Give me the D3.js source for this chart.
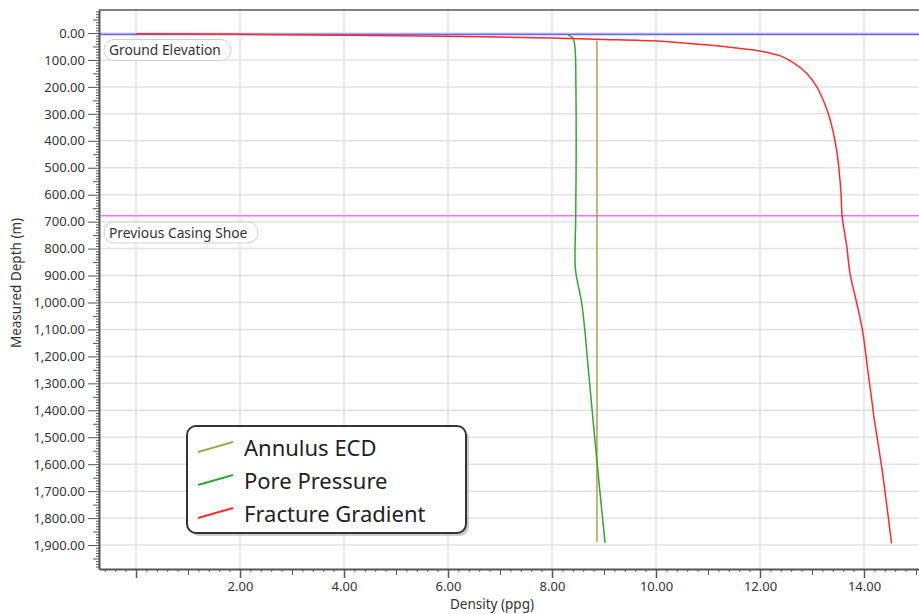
<script src="https://cdn.jsdelivr.net/npm/d3@7/dist/d3.min.js"></script>
<body style="margin:0;background:#fff">
<script>
// depth (m) vs density (ppg)
const ecdDepth = [28, 1890];
const ecdDensity = [8.865, 8.865];

const poreDepth = [7, 19, 50, 200, 450, 700, 875, 1000, 1100, 1250, 1580, 1892];
const poreDensity = [8.31, 8.40, 8.44, 8.46, 8.465, 8.455, 8.45, 8.57, 8.63, 8.70, 8.86, 9.02];

const fracDepth = [3, 5, 8, 12, 19, 24, 30, 36, 45, 55, 67, 84, 110, 150, 199, 280, 323, 370, 430, 508, 600, 681, 793, 891, 1002, 1102, 1262, 1362, 1424, 1610, 1894];
const fracDensity = [0, 2, 4, 6, 8, 9, 10, 10.46, 11, 11.5, 12, 12.38, 12.64, 12.9, 13.09, 13.28, 13.35, 13.41, 13.47, 13.52, 13.56, 13.58, 13.67, 13.73, 13.86, 13.97, 14.08, 14.15, 14.19, 14.34, 14.53];

const seriesNames = ["Annulus ECD", "Pore Pressure", "Fracture Gradient"];
const seriesColors = ["#aaa24e", "#2fa82f", "#ff2a2a"];

const markerNames = ["Ground Elevation", "Previous Casing Shoe"];
const markerDepths = [5, 678];
const markerColors = ["#6868ff", "#ff6cff"];

const xTicks = [0, 2, 4, 6, 8, 10, 12, 14];
const yTicks = d3.range(0, 2000, 100);

const width = 919, height = 614;
const pLeft = 99, pRight = 919, pTop = 10, pBottom = 569;

const x = d3.scaleLinear().domain([-0.7115, 15.058]).range([pLeft, pRight]);
const y = d3.scaleLinear().domain([-85.3, 1988.9]).range([pTop, pBottom]);

const font = "'Noto Sans', 'Open Sans', sans-serif";
const axisCol = "#555";

const svg = d3.select("body").append("svg")
  .attr("width", width).attr("height", height)
  .style("font-family", font);

svg.append("defs").append("clipPath").attr("id", "plot")
  .append("rect").attr("x", pLeft).attr("y", pTop)
  .attr("width", pRight - pLeft).attr("height", pBottom - pTop);

// grid
svg.append("g").selectAll("line").data(xTicks).enter().append("line")
  .attr("x1", d => x(d)).attr("x2", d => x(d))
  .attr("y1", pTop).attr("y2", pBottom)
  .attr("stroke", "#e2e2e2").attr("stroke-width", 1.5);
svg.append("g").selectAll("line").data(yTicks).enter().append("line")
  .attr("x1", pLeft).attr("x2", pRight)
  .attr("y1", d => y(d)).attr("y2", d => y(d))
  .attr("stroke", "#e2e2e2").attr("stroke-width", 1.5);

// marker lines
markerDepths.forEach(function(d, i) {
  svg.append("line")
    .attr("x1", pLeft).attr("x2", pRight)
    .attr("y1", y(d)).attr("y2", y(d))
    .attr("stroke", markerColors[i]).attr("stroke-width", 1.6);
});

// series
const line = d3.line().x(d => x(d[0])).y(d => y(d[1])).curve(d3.curveCatmullRom.alpha(0.5));
const series = [
  d3.zip(ecdDensity, ecdDepth),
  d3.zip(poreDensity, poreDepth),
  d3.zip(fracDensity, fracDepth)
];
const gLines = svg.append("g").attr("clip-path", "url(#plot)");
series.forEach(function(s, i) {
  gLines.append("path")
    .attr("d", line(s))
    .attr("fill", "none")
    .attr("stroke", seriesColors[i])
    .attr("stroke-width", 1.5);
});

// marker labels
const markerLabelY = [39.5, 222];
const markerLabelW = [127, 154];
markerNames.forEach(function(name, i) {
  svg.append("rect")
    .attr("x", 104).attr("y", markerLabelY[i])
    .attr("width", markerLabelW[i]).attr("height", 21)
    .attr("rx", 10).attr("fill", "#fff")
    .attr("stroke", "#d0d0d0");
  svg.append("text")
    .attr("x", 109).attr("y", markerLabelY[i] + 15.5)
    .attr("font-size", "13.8px").attr("fill", "#333")
    .text(name);
});

// top border
svg.append("line").attr("x1", pLeft).attr("x2", pRight)
  .attr("y1", pTop).attr("y2", pTop)
  .attr("stroke", axisCol).attr("stroke-width", 1.5);

// y axis
const yAxis = svg.append("g").attr("transform", "translate(" + pLeft + ",0)")
  .call(d3.axisLeft(y).tickValues(yTicks).tickSize(11).tickSizeOuter(0)
    .tickFormat(d3.format(",.2f")));
yAxis.select(".domain").attr("stroke", axisCol).attr("stroke-width", 2);
yAxis.selectAll(".tick line").attr("stroke", axisCol);
yAxis.selectAll("text").attr("font-size", "13px").attr("fill", "#333")
  .attr("x", -14).style("font-family", font);
svg.append("g").selectAll("line")
  .data(d3.range(-80, 1990, 10).filter(d => d % 100 !== 0))
  .enter().append("line")
  .attr("x1", pLeft).attr("x2", d => pLeft - (d % 50 === 0 ? 6 : 3))
  .attr("y1", d => y(d) + 0.5).attr("y2", d => y(d) + 0.5)
  .attr("stroke", axisCol);

// x axis
const xAxis = svg.append("g").attr("transform", "translate(0," + pBottom + ")")
  .call(d3.axisBottom(x).tickValues(xTicks).tickSize(9).tickSizeOuter(0)
    .tickFormat(d => d === 0 ? "" : d3.format(".2f")(d)));
xAxis.select(".domain").attr("stroke", axisCol).attr("stroke-width", 2);
xAxis.selectAll(".tick line").attr("stroke", axisCol).attr("stroke-width", 1.5);
xAxis.selectAll("text").attr("font-size", "13px").attr("fill", "#333")
  .attr("y", 13).style("font-family", font);
svg.append("g").selectAll("line")
  .data(d3.range(-0.6, 15.05, 0.2).filter(d => Math.abs(d / 2 - Math.round(d / 2)) > 0.01))
  .enter().append("line")
  .attr("x1", d => x(d) + 0.5).attr("x2", d => x(d) + 0.5)
  .attr("y1", pBottom).attr("y2", d => pBottom + (Math.abs(d - Math.round(d)) < 0.01 ? 6 : 3))
  .attr("stroke", axisCol);

// axis titles
svg.append("text")
  .attr("x", 492).attr("y", 609)
  .attr("text-anchor", "middle").attr("font-size", "13.5px").attr("fill", "#333")
  .text("Density (ppg)");
svg.append("text")
  .attr("transform", "translate(21,283) rotate(-90)")
  .attr("text-anchor", "middle").attr("font-size", "13.5px").attr("fill", "#333")
  .text("Measured Depth (m)");

// legend
const legend = svg.append("g").attr("transform", "translate(187,426)");
legend.append("rect")
  .attr("x", 3).attr("y", 3).attr("width", 279).attr("height", 107)
  .attr("rx", 9).attr("fill", "#999").attr("opacity", 0.5);
legend.append("rect")
  .attr("width", 279).attr("height", 107)
  .attr("rx", 9).attr("fill", "#fff")
  .attr("stroke", "#333").attr("stroke-width", 2);
seriesNames.forEach(function(name, i) {
  const row = legend.append("g").attr("transform", "translate(0," + (i * 33) + ")");
  row.append("line")
    .attr("x1", 11).attr("y1", 26).attr("x2", 46).attr("y2", 16)
    .attr("stroke", seriesColors[i]).attr("stroke-width", 2);
  row.append("text")
    .attr("x", 57).attr("y", 30)
    .attr("font-size", "22px").attr("fill", "#222")
    .text(name);
});
</script>
</body>
